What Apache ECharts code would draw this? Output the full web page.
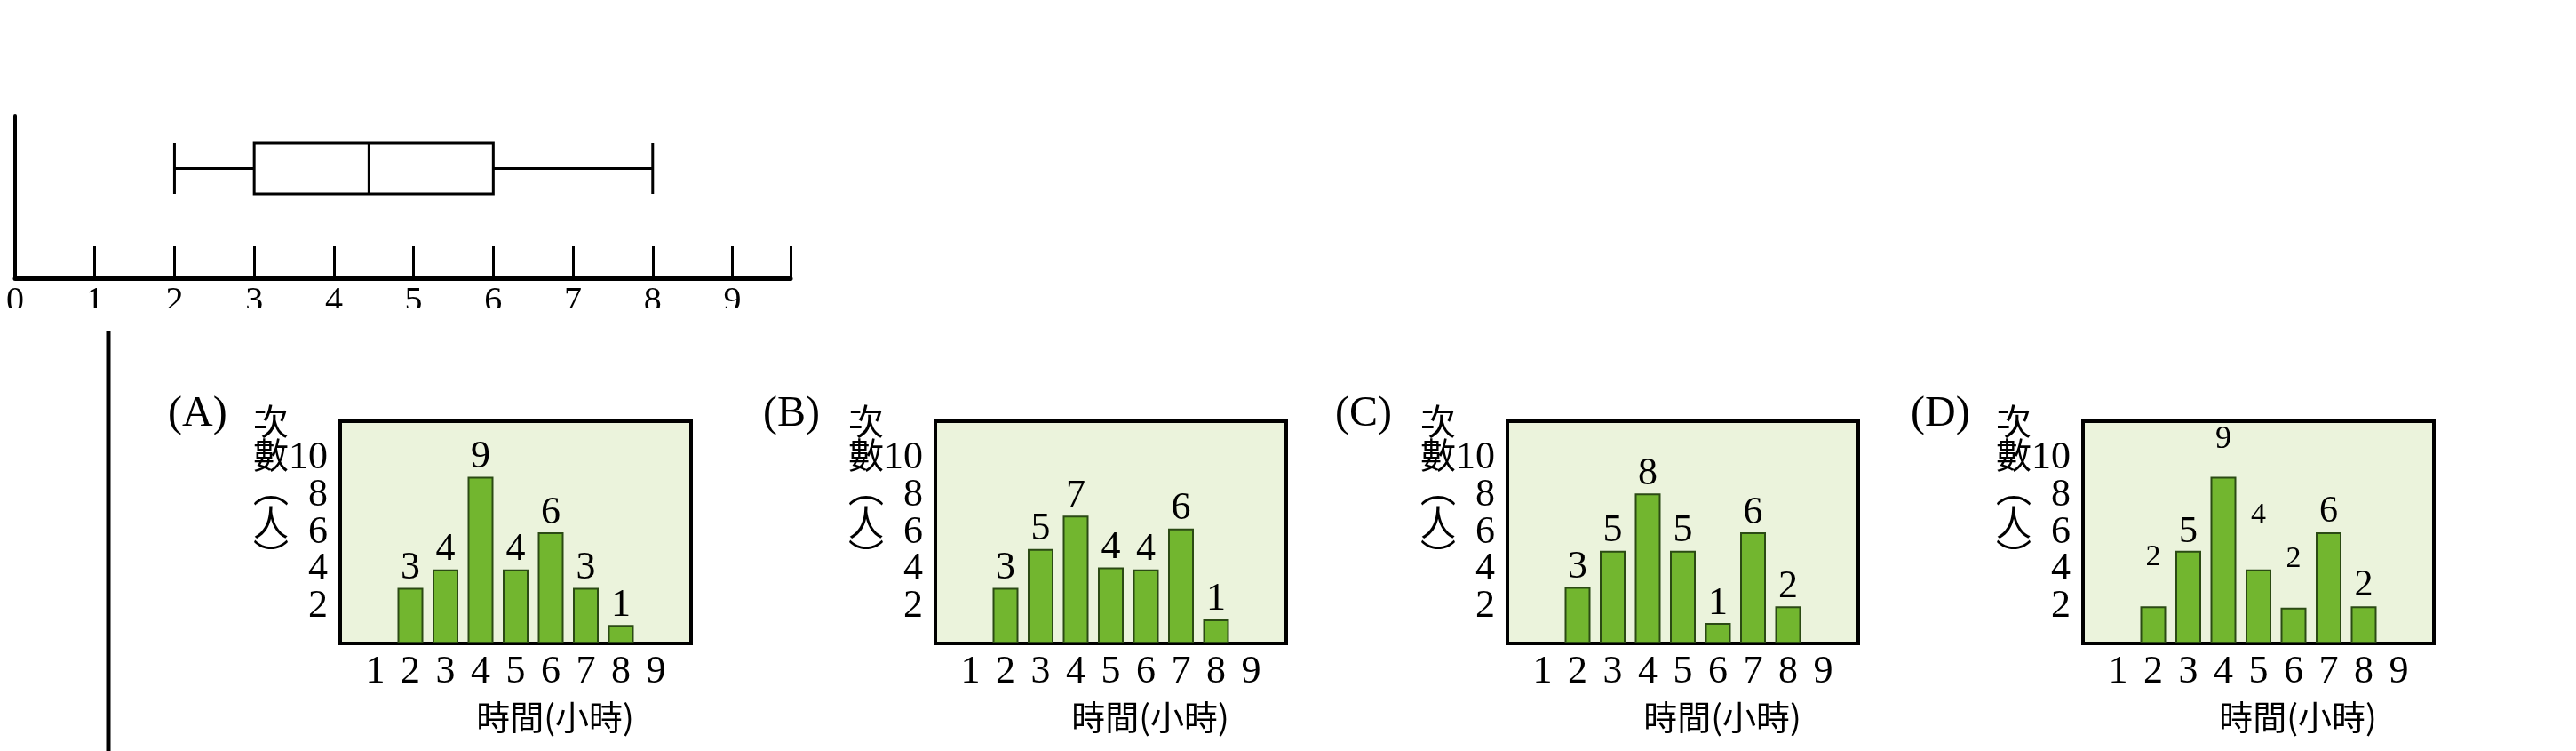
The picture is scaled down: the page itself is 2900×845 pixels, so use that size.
<!DOCTYPE html>
<html><head><meta charset="utf-8">
<script src="https://cdn.jsdelivr.net/npm/echarts@6/dist/echarts.min.js"></script>
<style>html,body{margin:0;padding:0;background:#fff}#c{width:2900px;height:845px}</style>
</head><body><div id="c"></div>
<script>
// ---- data ----
var boxTicks = [0,1,2,3,4,5,6,7,8,9];
var boxStats = [2, 3, 4.44, 6, 8]; // min, Q1, median, Q3, max
var hours = [2,3,4,5,6,7,8];
var panelNames = ['(A)','(B)','(C)','(D)'];
var barsA = [3,4,9,4,6,3,1];
var barsB = [3,5.1,6.9,4.1,4,6.2,1.3];
var barsC = [3.05,5,8.1,5,1.1,6,2];
var barsD = [2,5,9,4,1.93,6,2];
var labelsA = [3,4,9,4,6,3,1];
var labelsB = [3,5,7,4,4,6,1];
var labelsC = [3,5,8,5,1,6,2];
var labelsD = [2,5,9,4,2,6,2];
var yTicks = [0,2,4,6,8,10,12];
var xTickLabels = [1,2,3,4,5,6,7,8,9];

// ---- styles ----
var serif = '"Liberation Serif","DejaVu Serif",serif';
var cjk = '"Noto Sans CJK TC","Noto Sans CJK SC",sans-serif';
var lefts = [383,1053,1697,2345];
var pw = 395, ptop = 474, ph = 250;
var labelSizeD = [34,42,36,34,34,42,42];
var labelDistD = [38,0,24,44,38,2,2];

var chart = echarts.init(document.getElementById('c'));
var grids = [], xAxes = [], yAxes = [], series = [], graphics = [];

grids.push({left:17, width:873, top:66, height:247});
xAxes.push({gridIndex:0, type:'value', min:0, max:9.73, interval:1,
  axisLine:{show:true, onZero:false, lineStyle:{color:'#000', width:5}},
  axisTick:{show:true, inside:true, length:36, lineStyle:{color:'#000', width:3}},
  splitLine:{show:false},
  axisLabel:{color:'#000', fontFamily:serif, fontSize:40, margin:6,
    formatter:function(v){return boxTicks.indexOf(v)>=0 ? String(v) : '';}}});
yAxes.push({gridIndex:0, type:'category', data:['t'], show:false});
series.push({type:'boxplot', xAxisIndex:0, yAxisIndex:0, layout:'horizontal',
  boxWidth:[57,57], data:[boxStats],
  itemStyle:{color:'#fff', borderColor:'#000', borderWidth:3}});
grids.push({left:17, width:873, top:130, height:183});
xAxes.push({gridIndex:1, type:'value', min:0, max:1, show:false});
yAxes.push({gridIndex:1, type:'value', min:0, max:1, axisLine:{show:true, lineStyle:{color:'#000', width:4}},
  axisTick:{show:false}, axisLabel:{show:false}, splitLine:{show:false}});

var panels = [[barsA,labelsA],[barsB,labelsB],[barsC,labelsC],[barsD,labelsD]];
panels.forEach(function(p, i){
  var gi = i + 2;
  grids.push({left:lefts[i], width:pw, top:ptop, height:ph, show:true,
    backgroundColor:'#ebf3dc', borderColor:'#000', borderWidth:4, z:1});
  xAxes.push({gridIndex:gi, type:'value', min:0, max:10, interval:1,
    axisLine:{show:false}, axisTick:{show:false}, splitLine:{show:false},
    axisLabel:{color:'#000', fontFamily:serif, fontSize:44, margin:10,
      formatter:function(v){return xTickLabels.indexOf(v)>=0 ? String(v) : '';}},
    name:'時間(小時)', nameLocation:'middle', nameGap:64,
    nameTextStyle:{color:'#000', fontFamily:cjk, fontSize:38, padding:[0,0,0,242*2-395]}});
  yAxes.push({gridIndex:gi, type:'value', min:0, max:12, interval:2,
    axisLine:{show:false}, axisTick:{show:false},
    splitLine:{show:true, lineStyle:{color:'#9a9a9a', width:2}},
    axisLabel:{color:'#000', fontFamily:serif, fontSize:44, margin:14,
      formatter:function(v){return yTicks.indexOf(v)>=0 ? String(v) : '';}}});
  series.push({type:'bar', xAxisIndex:gi, yAxisIndex:gi, barWidth:29, z:3,
    data:hours.map(function(h,k){
      var item = {value:[h, p[0][k]]};
      var fs = i===3 ? labelSizeD[k] : 44, dist = i===3 ? labelDistD[k] : 0;
      item.label = {show:true, position:'top', distance:dist, fontSize:fs,
        fontFamily:serif, color:'#000', formatter:String(p[1][k]), lineHeight:fs};
      return item;
    }),
    itemStyle:{color:'#72b62f', borderColor:'#2b4a14', borderWidth:2}});
  graphics.push({type:'text', left:lefts[i]-194, top:442,
    style:{text:panelNames[i], fontFamily:serif, fontSize:48, fill:'#000'}});
  graphics.push({type:'text', left:lefts[i]-98, top:454,
    style:{text:'次\n數\n︵\n人\n︶', fontFamily:cjk, fontSize:40, lineHeight:38, fill:'#000', align:'left'}});
});

graphics.push({type:'rect', left:0, top:347, shape:{width:900, height:24}, style:{fill:'#fff'}, z:100});
graphics.push({type:'line', shape:{x1:122, y1:372, x2:122, y2:845}, style:{stroke:'#000', lineWidth:5}, z:100});

chart.setOption({animation:false, grid:grids, xAxis:xAxes, yAxis:yAxes, series:series, graphic:graphics});
</script></body></html>
